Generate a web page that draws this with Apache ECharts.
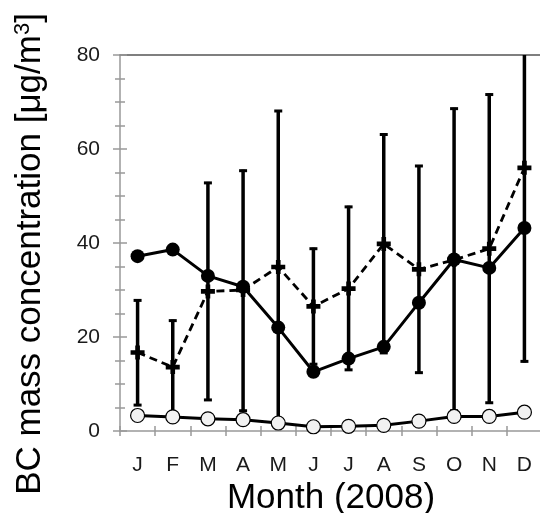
<!DOCTYPE html>
<html>
<head>
<meta charset="utf-8">
<script src="https://cdn.jsdelivr.net/npm/echarts@6/dist/echarts.min.js"></script>
<style>
  html,body{margin:0;padding:0;background:#fff;}
  #chart{width:540px;height:513px;}
</style>
</head>
<body>
<div id="chart"></div>
<script>
var months=['J','F','M','A','M','J','J','A','S','O','N','D'];
var yTicks=[0,20,40,60,80];

//实心圆 (solid line)
var bcFilled=[37.2,38.6,33.0,30.7,22.0,12.6,15.4,17.9,27.3,36.5,34.7,43.2];
//十字 (dashed line)
var bcCross=[16.7,13.6,29.7,30.0,34.9,26.5,30.3,39.8,34.4,36.4,38.8,56.0];
//误差棒 下限/上限
var errLow=[5.3,3.5,6.4,4.1,1.5,14.0,12.8,16.4,12.2,4.1,5.8,14.6];
var errHigh=[28.0,23.7,53.0,55.6,68.3,39.0,47.9,63.3,56.6,68.8,71.8,97.4];
//空心圆
var bcOpen=[3.3,3.0,2.6,2.4,1.7,0.9,1.0,1.2,2.1,3.1,3.1,4.0];

var FONT='"Liberation Sans", Arial, sans-serif';
var yMin=yTicks[0];
var yMax=yTicks[yTicks.length-1];
var TICK_COLOR='#999';

var errData=[];
for(var i=0;i<months.length;i++){
    errData.push([i,errLow[i],errHigh[i]]);
}

//画误差棒
function renderErrorBar(params,api){
    var x=api.value(0);
    var lo=api.value(1);
    var hi=api.value(2);
    var top=api.coord([x,Math.min(hi,yMax)]);
    var bot=api.coord([x,Math.max(lo,yMin)]);
    var capW=4;
    var children=[{
        type:'line',
        shape:{x1:top[0],y1:top[1],x2:bot[0],y2:bot[1]},
        style:{stroke:'#000',lineWidth:3.5}
    }];
    if(hi<=yMax){
        children.push({
            type:'line',
            shape:{x1:top[0]-capW,y1:top[1]+1,x2:top[0]+capW,y2:top[1]+1},
            style:{stroke:'#000',lineWidth:3}
        });
    }
    if(lo>=yMin){
        children.push({
            type:'line',
            shape:{x1:bot[0]-capW,y1:bot[1]-1,x2:bot[0]+capW,y2:bot[1]-1},
            style:{stroke:'#000',lineWidth:3}
        });
    }
    return {type:'group',children:children};
}

//只画刻度的辅助轴
function tickOnlyY(interval,inside,len){
    return {
        type:'value',min:yMin,max:yMax,interval:interval,position:'left',
        axisLine:{show:false},
        axisTick:{show:true,inside:inside,length:len,lineStyle:{color:TICK_COLOR,width:1.5}},
        axisLabel:{show:false},
        splitLine:{show:false}
    };
}

var plusPath='path://M4,0h4v4h4v4h-4v4h-4v-4h-4v-4h4z';

var myChart=echarts.init(document.getElementById('chart'),null,{renderer:'canvas'});
var option={
    backgroundColor:'#fff',
    animation:false,
    grid:{left:120,top:55,right:-2,bottom:82,containLabel:false,outerBoundsMode:'none'},
    xAxis:[{
        type:'category',
        data:months,
        position:'bottom',
        boundaryGap:true,
        axisLine:{onZero:false,lineStyle:{color:'#999',width:1.5}},
        axisTick:{show:true,inside:true,length:5,lineStyle:{color:TICK_COLOR,width:1.5}},
        axisLabel:{color:'#1a1a1a',fontSize:21,fontFamily:FONT,margin:24},
        splitLine:{show:false},
        name:'Month (2008)',
        nameLocation:'middle',
        nameGap:46,
        nameTextStyle:{color:'#000',fontSize:35,fontFamily:FONT}
    },{
        //上边框
        type:'category',
        data:months,
        position:'top',
        axisLine:{onZero:false,lineStyle:{color:'#555',width:1.5}},
        axisTick:{show:false},
        axisLabel:{show:false},
        splitLine:{show:false}
    },{
        //x刻度 向外部分
        type:'category',
        data:months,
        position:'bottom',
        axisLine:{show:false,onZero:false},
        axisTick:{show:true,inside:false,length:5,lineStyle:{color:TICK_COLOR,width:1.5}},
        axisLabel:{show:false},
        splitLine:{show:false}
    }],
    yAxis:[{
        type:'value',
        min:yMin,
        max:yMax,
        interval:20,
        axisLine:{show:true,lineStyle:{color:'#999',width:1.5}},
        axisTick:{show:true,length:7,lineStyle:{color:TICK_COLOR,width:1.5}},
        axisLabel:{color:'#1a1a1a',fontSize:21,fontFamily:FONT,margin:20},
        splitLine:{show:false}
    },
    tickOnlyY(5,true,5),
    tickOnlyY(5,false,5),
    tickOnlyY(20,true,7)
    ],
    graphic:[{
        type:'text',
        x:30,
        y:254,
        rotation:Math.PI/2,
        style:{
            text:'{a|BC mass concentration [μg/m}{b|3}{a|]}',
            align:'center',
            verticalAlign:'middle',
            rich:{
                a:{fontSize:35,fontFamily:FONT,fill:'#000'},
                b:{fontSize:22,fontFamily:FONT,fill:'#000',verticalAlign:'top',padding:[0,0,14,0]}
            }
        }
    }],
    series:[{
        type:'custom',
        name:'err',
        renderItem:renderErrorBar,
        data:errData,
        z:1
    },{
        type:'line',
        name:'cross',
        data:bcCross,
        symbol:plusPath,
        symbolSize:14,
        showAllSymbol:true,
        lineStyle:{color:'#000',width:2.8,type:[8,5]},
        itemStyle:{color:'#000'},
        z:3
    },{
        type:'line',
        name:'filled',
        data:bcFilled,
        symbol:'circle',
        symbolSize:14,
        showAllSymbol:true,
        lineStyle:{color:'#000',width:3},
        itemStyle:{color:'#000'},
        z:4
    },{
        type:'line',
        name:'open',
        data:bcOpen,
        symbol:'circle',
        symbolSize:14,
        showAllSymbol:true,
        lineStyle:{color:'#000',width:3},
        itemStyle:{color:'#f2f2f2',borderColor:'#000',borderWidth:1.2},
        z:5
    }]
};
myChart.setOption(option);
</script>
</body>
</html>
